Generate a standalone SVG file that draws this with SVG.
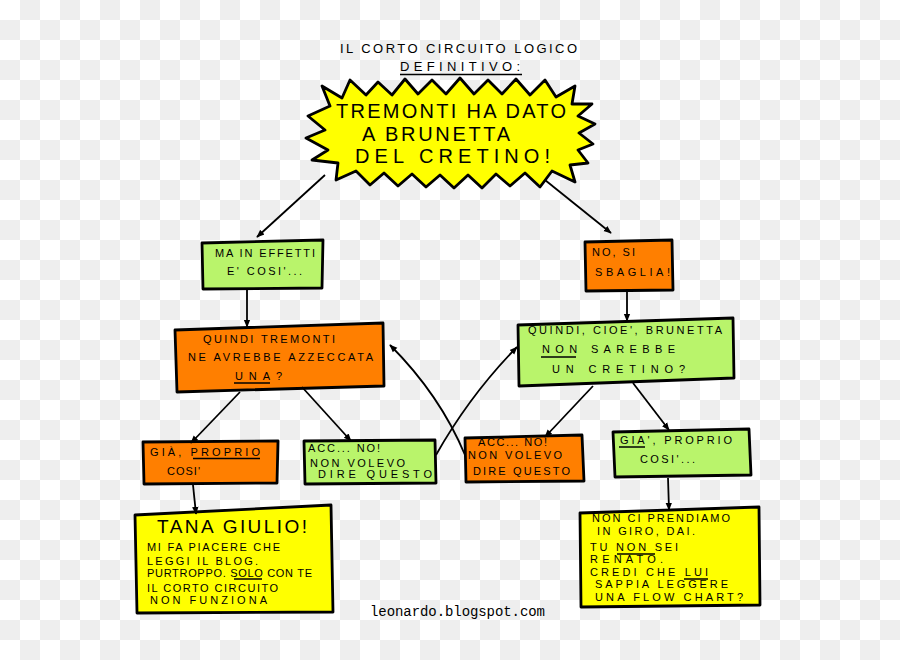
<svg xmlns="http://www.w3.org/2000/svg" width="900" height="660" viewBox="0 0 900 660">
<defs>
<pattern id="checker" width="40" height="40" patternUnits="userSpaceOnUse">
<rect width="40" height="40" fill="#ffffff"/>
<rect x="20" y="0" width="20" height="20" fill="#eeeeee"/>
<rect x="0" y="20" width="20" height="20" fill="#eeeeee"/>
</pattern>
<marker id="ah" viewBox="0 0 10 10" refX="9" refY="5" markerWidth="8" markerHeight="8" markerUnits="userSpaceOnUse" orient="auto">
<path d="M0,1 L10,5 L0,9 z" fill="#000"/>
</marker>
<style>
.box{stroke:#000;stroke-width:2.8;stroke-linejoin:round}
.green{fill:#b9f46b}
.orange{fill:#ff7f00}
.yellow{fill:#ffff00}
.t{font-family:"Liberation Sans","DejaVu Sans",sans-serif;fill:#000;font-size:11px}
.big{font-size:20px}
.ttl{font-size:13px}
.ul{stroke:#000;stroke-width:1.5}
.conn path,.conn line{stroke:#000;stroke-width:1.8;fill:none;marker-end:url(#ah)}
.mono{font-family:"Liberation Mono","Courier New",monospace;font-size:14px;fill:#000}
</style>
</defs>
<rect width="900" height="660" fill="url(#checker)"/>

<g id="title">
<text class="t ttl" x="340" y="53" textLength="237" lengthAdjust="spacing">IL CORTO CIRCUITO LOGICO</text>
<text class="t ttl" x="400" y="71" textLength="120" lengthAdjust="spacing">DEFINITIVO:</text>
<line class="ul" x1="400" y1="74.5" x2="522" y2="74.5"/>
</g>

<g id="start">
<polygon class="box yellow" points="322,86 342,98 350,80 366,95 378,82 392,95 405,79 418,94 432,80 446,94 460,78 474,94 488,80 502,94 516,79 530,95 545,80 556,97 575,86 572,104 592,104 578,116 595,124 579,133 593,144 578,150 588,163 570,165 575,182 552,171 540,187 525,173 510,186 496,174 482,188 468,175 454,188 440,175 426,187 412,174 398,186 384,173 370,185 356,171 336,180 338,163 312,160 328,150 306,138 325,130 308,116 330,106"/>
<text class="t big" x="336" y="118" textLength="230" lengthAdjust="spacing">TREMONTI HA DATO</text>
<text class="t big" x="362" y="141" textLength="148" lengthAdjust="spacing">A BRUNETTA</text>
<text class="t big" x="355" y="163" textLength="195" lengthAdjust="spacing">DEL CRETINO!</text>
</g>

<g id="n1">
<polygon class="box green" points="202,243 323,240 322,288 203,289"/>
<text class="t" x="215" y="257" textLength="100" lengthAdjust="spacing">MA IN EFFETTI</text>
<text class="t" x="227" y="275" textLength="75" lengthAdjust="spacing">E' COSI'...</text>
</g>

<g id="n2">
<polygon class="box orange" points="585,242 672,240 673,290 586,291"/>
<text class="t" x="592" y="256" textLength="43" lengthAdjust="spacing">NO, SI</text>
<text class="t" x="595" y="276" textLength="75" lengthAdjust="spacing">SBAGLIA!</text>
</g>

<g id="n3">
<polygon class="box orange" points="175,330 383,323 384,386 177,392"/>
<text class="t" x="203" y="343" textLength="132" lengthAdjust="spacing">QUINDI TREMONTI</text>
<text class="t" x="188" y="361" textLength="185" lengthAdjust="spacing">NE AVREBBE AZZECCATA</text>
<text class="t" x="235" y="380" textLength="47" lengthAdjust="spacing">UNA?</text>
<line class="ul" x1="234" y1="383" x2="270" y2="383"/>
</g>

<g id="n4">
<polygon class="box green" points="518,325 733,318 734,378 519,386"/>
<text class="t" x="528" y="334" textLength="194" lengthAdjust="spacing">QUINDI, CIOE', BRUNETTA</text>
<text class="t" x="542" y="353" textLength="133" lengthAdjust="spacing">NON SAREBBE</text>
<line class="ul" x1="541" y1="357" x2="576" y2="357"/>
<text class="t" x="552" y="373" textLength="133" lengthAdjust="spacing">UN CRETINO?</text>
</g>

<g id="n5">
<polygon class="box orange" points="143,442 278,441 277,483 144,484"/>
<text class="t" x="150" y="456" textLength="110" lengthAdjust="spacing">GIÀ, PROPRIO</text>
<line class="ul" x1="193" y1="458.5" x2="260" y2="458.5"/>
<text class="t" x="167" y="475" textLength="33" lengthAdjust="spacing">COSI'</text>
</g>

<g id="n6">
<polygon class="box green" points="304,441 435,440 436,483 305,484"/>
<text class="t" x="308" y="452" textLength="72" lengthAdjust="spacing">ACC... NO!</text>
<text class="t" x="310" y="467" textLength="95" lengthAdjust="spacing">NON VOLEVO</text>
<text class="t" x="318" y="478" textLength="114" lengthAdjust="spacing">DIRE QUESTO</text>
</g>

<g id="n7">
<polygon class="box orange" points="465,438 582,435 584,481 466,482"/>
<text class="t" x="478" y="446" textLength="69" lengthAdjust="spacing">ACC... NO!</text>
<text class="t" x="468" y="459" textLength="94" lengthAdjust="spacing">NON VOLEVO</text>
<text class="t" x="473" y="475" textLength="97" lengthAdjust="spacing">DIRE QUESTO</text>
</g>

<g id="n8">
<polygon class="box green" points="613,432 749,429 751,475 615,477"/>
<text class="t" x="620" y="444" textLength="112" lengthAdjust="spacing">GIA', PROPRIO</text>
<line class="ul" x1="619" y1="447" x2="645" y2="447"/>
<text class="t" x="640" y="463" textLength="55" lengthAdjust="spacing">COSI'...</text>
</g>

<g id="n9">
<polygon class="box yellow" points="135,515 331,505 333,612 137,613"/>
<text class="t" style="font-size:19px" x="157" y="533" textLength="150" lengthAdjust="spacing">TANA GIULIO!</text>
<text class="t" x="147" y="551" textLength="133" lengthAdjust="spacing">MI FA PIACERE CHE</text>
<text class="t" x="147" y="565" textLength="111" lengthAdjust="spacing">LEGGI IL BLOG.</text>
<text class="t" x="147" y="577" textLength="165" lengthAdjust="spacing">PURTROPPO. SOLO CON TE</text>
<line class="ul" x1="234" y1="579" x2="262" y2="579"/>
<text class="t" x="147" y="592" textLength="131" lengthAdjust="spacing">IL CORTO CIRCUITO</text>
<text class="t" x="150" y="604" textLength="117" lengthAdjust="spacing">NON FUNZIONA</text>
</g>

<g id="n10">
<polygon class="box yellow" points="580,513 759,507 760,605 581,607"/>
<text class="t" x="592" y="522" textLength="138" lengthAdjust="spacing">NON CI PRENDIAMO</text>
<text class="t" x="597" y="535" textLength="98" lengthAdjust="spacing">IN GIRO, DAI.</text>
<text class="t" x="590" y="551" textLength="88" lengthAdjust="spacing">TU NON SEI</text>
<line class="ul" x1="617" y1="554" x2="655" y2="554"/>
<text class="t" x="590" y="563" textLength="73" lengthAdjust="spacing">RENATO.</text>
<text class="t" x="590" y="576" textLength="118" lengthAdjust="spacing">CREDI CHE LUI</text>
<line class="ul" x1="684" y1="579" x2="708" y2="579"/>
<text class="t" x="595" y="588" textLength="133" lengthAdjust="spacing">SAPPIA LEGGERE</text>
<text class="t" x="595" y="601" textLength="148" lengthAdjust="spacing">UNA FLOW CHART?</text>
</g>

<g id="connectors" class="conn">
<line x1="325" y1="175" x2="257" y2="237"/>
<line x1="545" y1="180" x2="611" y2="233"/>
<line x1="247" y1="289" x2="247" y2="327"/>
<line x1="627" y1="291" x2="627" y2="321"/>
<line x1="240" y1="392" x2="191" y2="443"/>
<line x1="302" y1="387" x2="351" y2="441"/>
<line x1="593" y1="386" x2="545" y2="437"/>
<line x1="633" y1="383" x2="669" y2="430"/>
<line x1="193" y1="485" x2="196" y2="514"/>
<line x1="668" y1="478" x2="669" y2="510"/>
<path d="M436,455 Q470,395 517,347"/>
<path d="M465,455 Q440,395 390,345"/>
</g>

<text class="mono" x="370" y="616" textLength="175" lengthAdjust="spacing">leonardo.blogspot.com</text>
</svg>
